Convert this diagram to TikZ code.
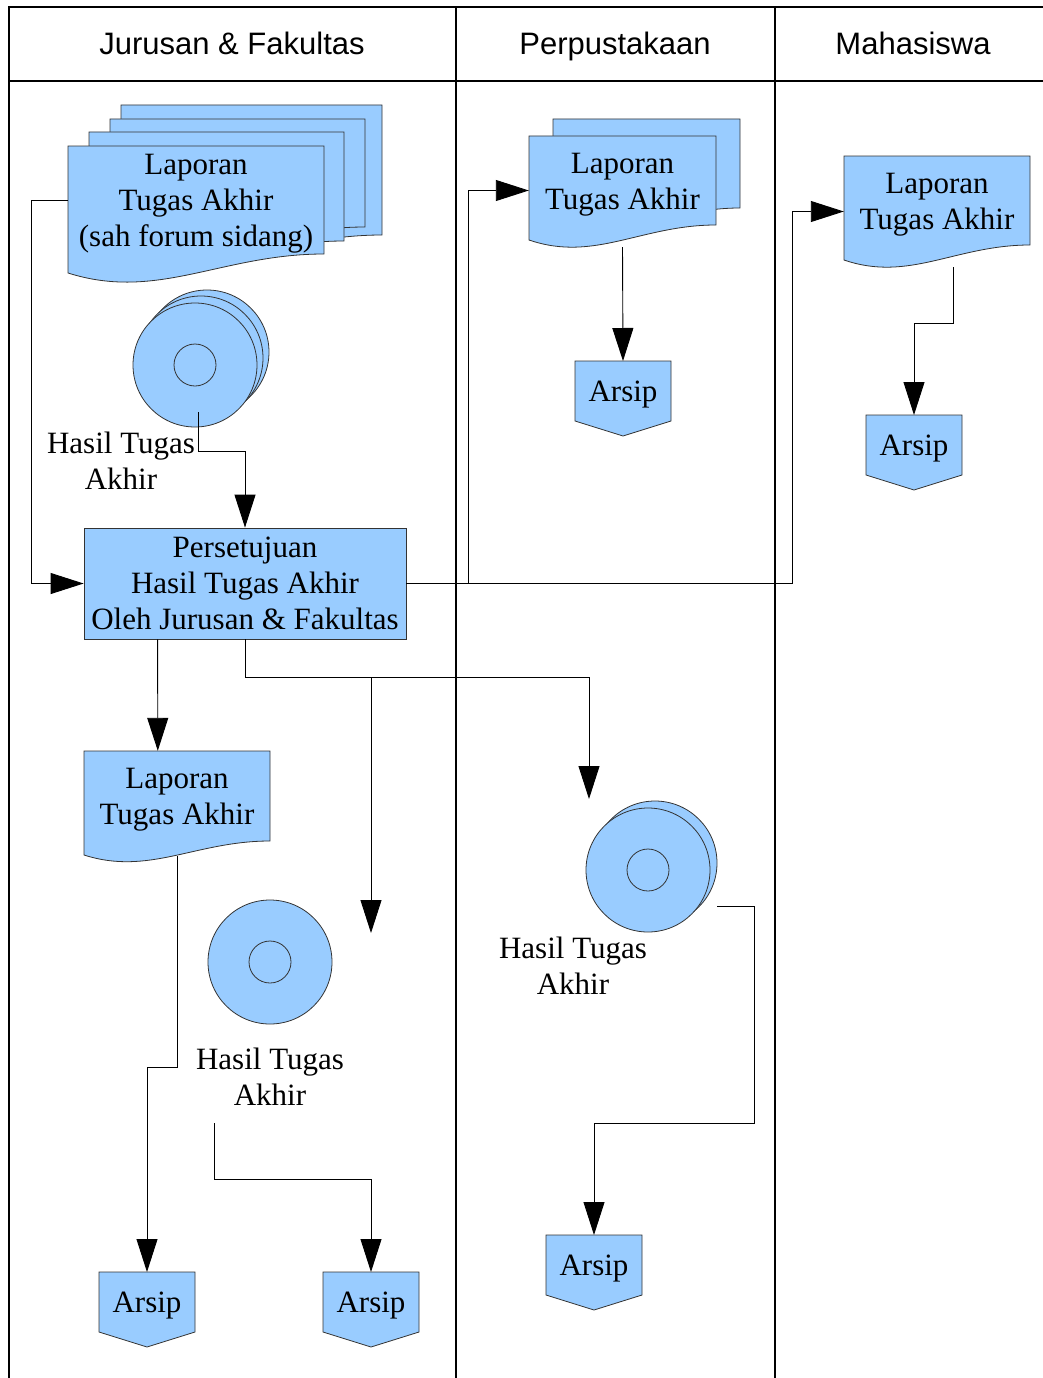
\documentclass[tikz,border=0pt]{standalone}
\usepackage{fontspec}
\setmainfont{Liberation Serif}
\setsansfont{Liberation Sans}
\usetikzlibrary{positioning,arrows.meta,calc}

\definecolor{biru}{HTML}{99CCFF}
\definecolor{garis}{HTML}{333333}

\tikzset{
  teks/.style={font=\fontsize{31}{36}\selectfont, align=center, inner sep=0pt},
  judul/.style={font=\sffamily\fontsize{31}{36}\selectfont, inner sep=0pt, anchor=base},
  bentuk/.style={fill=biru, draw=garis, line width=0.8pt},
  proses/.style={teks, bentuk, minimum width=322pt, minimum height=111pt},
  disk/.style={circle, bentuk, minimum size=124pt, inner sep=0pt,
    path picture={\draw[garis, line width=0.8pt] (path picture bounding box.center) circle (21pt);}},
  panah/.style={draw=black, line width=0.9pt, -{Triangle[length=33pt,width=21pt]}},
  bingkai/.style={draw=black, line width=1.3pt}
}

% dokumen: nama, x, y, lebar, tinggi kanan, tinggi kiri, teks
\newcommand{\dokumen}[7]{%
  \filldraw[bentuk] (#2,#3) -- ++(#4,0) -- ++(0,#5)
    .. controls ({#2+0.6*#4},{#3+#5}) and ({#2+0.35*#4},{#3+2.5*#6-1.5*#5}) .. (#2,{#3+#6}) -- cycle;
  \node[minimum width=#4, minimum height=#5, inner sep=0pt] (#1) at ({#2+#4/2},{#3+#5/2}) {};
  \node[teks] (#1-t) at ([yshift=-4pt]#1.center) {#7};
}
% arsip: nama, x tengah, y atas
\newcommand{\arsip}[3]{%
  \filldraw[bentuk] ({#2-48},#3) -- ++(96,0) -- ++(0,60) -- (#2,{#3+75}) -- ({#2-48},{#3+60}) -- cycle;
  \node[teks, minimum width=96, minimum height=60, text height=27pt, text depth=7pt, anchor=north] (#1) at (#2,#3) {Arsip};
}

\begin{document}
\begin{tikzpicture}[x=1pt, y=-1pt]
  \useasboundingbox (0,0) rectangle (1043,1378);

  % kolom
  \draw[bingkai] (9,1378) -- (9,7) -- (1043,7);
  \draw[bingkai] (9,81) -- (1043,81);
  \foreach \x in {456,775} \draw[bingkai] (\x,7) -- (\x,1378);
  \node[judul] (kolJ) at (232,55) {Jurusan \& Fakultas};
  \node[judul] (kolP) at (615,55) {Perpustakaan};
  \node[judul] (kolM) at (913,55) {Mahasiswa};

  % jurusan & fakultas
  \dokumen{lapJ4}{121}{105}{261}{130}{149}{}
  \dokumen{lapJ3}{110}{119}{255}{108}{127}{}
  \dokumen{lapJ2}{89}{132}{255}{109}{128}{}
  \dokumen{lapJ}{68}{146}{256}{108}{127}{Laporan\\Tugas Akhir\\(sah forum sidang)}

  \node[disk] (hasilJ3) at (207,352) {};
  \node[disk] (hasilJ2) at (201,358) {};
  \node[disk] (hasilJ) at (195,365) {};
  \node[teks] (lblJ) at (121,461) {Hasil Tugas\\Akhir};

  \node[proses] (setuju) at (245,583.5) {Persetujuan\\Hasil Tugas Akhir\\Oleh Jurusan \& Fakultas};

  \dokumen{lapB}{84}{751}{186}{90}{104}{Laporan\\Tugas Akhir}

  \node[disk] (hasilB) at (270,962) {};
  \node[teks] (lblB) at (270,1077) {Hasil Tugas\\Akhir};

  \arsip{arsipJ1}{147}{1272}
  \arsip{arsipJ2}{371}{1272}

  % perpustakaan
  \dokumen{lapP2}{553}{119}{187}{89}{104}{}
  \dokumen{lapP}{529}{136}{187}{89}{104}{Laporan\\Tugas Akhir}
  \arsip{arsipP1}{623}{361}

  \node[disk] (hasilP2) at (655,863) {};
  \node[disk] (hasilP) at (648,870) {};
  \node[teks] (lblP) at (573,966) {Hasil Tugas\\Akhir};
  \arsip{arsipP2}{594}{1235}

  % mahasiswa
  \dokumen{lapM}{844}{156}{186}{89}{104}{Laporan\\Tugas Akhir}
  \arsip{arsipM}{914}{415}

  % ujung bebas
  \coordinate (ujungP) at (589,799);
  \coordinate (ujungJ) at (371,933);
  \coordinate (awalB) at (214,1123);
  \coordinate (awalP) at (717,906);

  % alur
  \draw[panah] (lapJ.west) -- ++(-36,0) |- (setuju.west);
  \draw[panah] ([xshift=3pt,yshift=15pt]hasilJ.south) -- ++(0,39) -| (setuju.north);
  \draw[panah] (setuju.east) -- ++(62,0) |- ([yshift=-10pt]lapP.west);
  \draw[panah] (setuju.east) -- ++(386,0) |- ([yshift=-11pt]lapM.west);
  \draw[panah] ([xshift=74pt]setuju.south west) -- ([xshift=74pt]lapB.north west);
  \draw[panah] (setuju.south) -- ++(0,38) -| (ujungP);
  \draw[panah] (setuju.south) -- ++(0,38) -| (ujungJ);
  \draw[panah] ([yshift=-15pt]lapB.south) -- ++(0,211) -| (arsipJ1.north);
  \draw[panah] (awalB) -- ++(0,56) -| (arsipJ2.north);
  \draw[panah] ([yshift=-22pt]lapP.south) -- (arsipP1.north);
  \draw[panah] (awalP) -| ++(37,217) -| (arsipP2.north);
  \draw[panah] ([xshift=16pt,yshift=-22pt]lapM.south) -- ++(0,56) -| (arsipM.north);
\end{tikzpicture}
\end{document}
